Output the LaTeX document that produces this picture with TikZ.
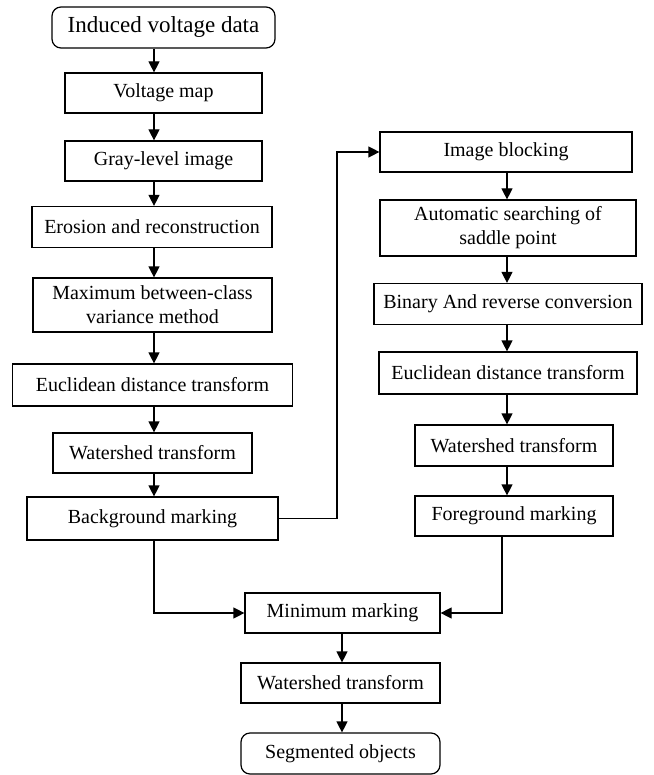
\documentclass[tikz,border=0pt]{standalone}
\usepackage{fontspec}
\setmainfont{Liberation Serif}
\usetikzlibrary{arrows.meta}
\begin{document}
\begin{tikzpicture}[x=1pt,y=-1pt,
  box/.style={draw, line width=1.2pt, inner sep=0pt, align=center,
    font=\fontsize{20}{24}\selectfont},
  term/.style={box, rounded corners=9pt},
  arr/.style={line width=1.2pt, -{Triangle[length=11pt,width=11pt]}},
  lin/.style={line width=1.2pt}]
\useasboundingbox (0,0) rectangle (653,775);
% column guides
\coordinate (colL) at (154,0);
\coordinate (colR) at (507,0);
\coordinate (colB) at (342,0);
\coordinate (loopx) at (337,0);
\coordinate (fgx) at (502,0);
% left column
\node[term, minimum width=223pt, minimum height=41pt, font=\fontsize{23}{27}\selectfont] (ind) at (163.5,27.5) {Induced voltage data};
\node[box, minimum width=197pt, minimum height=40pt] (vm) at (163.5,93) {Voltage map};
\node[box, minimum width=197pt, minimum height=40pt] (gl) at (163.5,161) {Gray-level image};
\node[box, minimum width=240pt, minimum height=41pt] (er) at (152,227) {Erosion and reconstruction};
\node[box, minimum width=239pt, minimum height=54pt] (mx) at (152.5,305) {Maximum between-class\\variance method};
\node[box, minimum width=280pt, minimum height=42pt] (eL) at (152.5,385) {Euclidean distance transform};
\node[box, minimum width=199pt, minimum height=40pt] (wL) at (152.5,453) {Watershed transform};
\node[box, minimum width=251pt, minimum height=43pt] (bg) at (152.5,518.5) {Background marking};
% right column
\node[box, minimum width=252pt, minimum height=40pt] (ib) at (506,152) {Image blocking};
\node[box, minimum width=256pt, minimum height=56pt] (as) at (508,228) {Automatic searching of\\saddle point};
\node[box, minimum width=268pt, minimum height=41pt] (bi) at (508,304) {Binary And reverse conversion};
\node[box, minimum width=258pt, minimum height=42pt] (eR) at (508,373) {Euclidean distance transform};
\node[box, minimum width=198pt, minimum height=41pt] (wR) at (514,445.5) {Watershed transform};
\node[box, minimum width=198pt, minimum height=40pt] (fg) at (514,516) {Foreground marking};
% bottom
\node[box, minimum width=195pt, minimum height=40pt] (mm) at (342.5,613) {Minimum marking};
\node[box, minimum width=199pt, minimum height=40pt] (wB) at (340.5,683) {Watershed transform};
\node[term, minimum width=199pt, minimum height=41pt] (so) at (340.5,753.5) {Segmented objects};
% left arrows
\draw[arr] (ind.south -| colL) -- (vm.north -| colL);
\draw[arr] (vm.south -| colL) -- (gl.north -| colL);
\draw[arr] (gl.south -| colL) -- (er.north -| colL);
\draw[arr] (er.south -| colL) -- (mx.north -| colL);
\draw[arr] (mx.south -| colL) -- (eL.north -| colL);
\draw[arr] (eL.south -| colL) -- (wL.north -| colL);
\draw[arr] (wL.south -| colL) -- (bg.north -| colL);
% loop to right column
\draw[arr] (bg.east) -- (bg.east -| loopx) |- (ib.west);
% right arrows
\draw[arr] (ib.south -| colR) -- (as.north -| colR);
\draw[arr] (as.south -| colR) -- (bi.north -| colR);
\draw[arr] (bi.south -| colR) -- (eR.north -| colR);
\draw[arr] (eR.south -| colR) -- (wR.north -| colR);
\draw[arr] (wR.south -| colR) -- (fg.north -| colR);
% merge
\draw[arr] (bg.south -| colL) |- (mm.west);
\draw[arr] (fg.south -| fgx) |- (mm.east);
% bottom arrows
\draw[arr] (mm.south -| colB) -- (wB.north -| colB);
\draw[arr] (wB.south -| colB) -- (so.north -| colB);
\end{tikzpicture}
\end{document}
